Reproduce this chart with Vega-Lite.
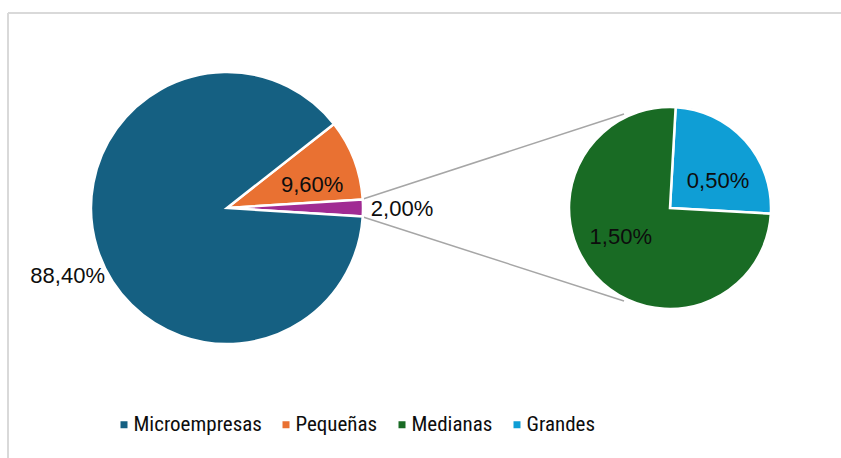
{
  "$schema": "https://vega.github.io/schema/vega-lite/v6.json",
  "width": 833,
  "height": 445,
  "autosize": {"type": "none"},
  "padding": {"left": 8, "top": 13, "right": 0, "bottom": 0},
  "background": "#ffffff",
  "config": {
    "view": {"stroke": "#d9d9d9", "strokeWidth": 2, "strokeDash": [833, 1278, 445, 0]},
    "locale": {"number": {"decimal": ",", "thousands": ".", "grouping": [3], "currency": ["", " €"]}},
    "text": {"font": "Liberation Sans", "fontSize": 22, "color": "#0d0d0d", "align": "center", "baseline": "middle"}
  },
  "datasets": {
    "principal": [
      {"categoria": "Pequeñas", "valor": 0.096, "orden": 1, "grupo": "Principal"},
      {"categoria": "Otros", "valor": 0.02, "orden": 2, "grupo": "Principal"},
      {"categoria": "Microempresas", "valor": 0.884, "orden": 3, "grupo": "Principal"}
    ],
    "desglose": [
      {"categoria": "Grandes", "valor": 0.005, "orden": 1, "grupo": "Desglose"},
      {"categoria": "Medianas", "valor": 0.015, "orden": 2, "grupo": "Desglose"}
    ],
    "conectores": [
      {"lado": "superior", "desde": "Principal", "hasta": "Desglose"},
      {"lado": "inferior", "desde": "Principal", "hasta": "Desglose"}
    ]
  },
  "resolve": {"scale": {"theta": "independent"}},
  "layer": [
    {
      "data": {"name": "conectores"},
      "transform": [{"filter": "datum.lado === 'superior'"}],
      "mark": {"type": "rule", "color": "#a6a6a6", "strokeWidth": 1.5, "xOffset": 136, "yOffset": -9, "x2Offset": -46, "y2Offset": -94},
      "encoding": {
        "x": {"field": "desde", "type": "nominal", "scale": {"type": "point", "domain": ["Principal", "Desglose"], "range": [219, 662], "padding": 0}, "axis": null},
        "x2": {"field": "hasta"},
        "y": {"datum": "centro", "type": "nominal", "scale": {"type": "point", "domain": ["centro"], "range": [195, 195], "padding": 0}, "axis": null},
        "y2": {"datum": "centro"}
      }
    },
    {
      "data": {"name": "conectores"},
      "transform": [{"filter": "datum.lado === 'inferior'"}],
      "mark": {"type": "rule", "color": "#a6a6a6", "strokeWidth": 1.5, "xOffset": 136, "yOffset": 9, "x2Offset": -46, "y2Offset": 93},
      "encoding": {
        "x": {"field": "desde", "type": "nominal", "scale": {"type": "point", "domain": ["Principal", "Desglose"], "range": [219, 662], "padding": 0}, "axis": null},
        "x2": {"field": "hasta"},
        "y": {"datum": "centro", "type": "nominal", "scale": {"type": "point", "domain": ["centro"], "range": [195, 195], "padding": 0}, "axis": null},
        "y2": {"datum": "centro"}
      }
    },
    {
      "data": {"name": "principal"},
      "encoding": {
        "x": {"field": "grupo", "type": "nominal", "scale": {"type": "point", "domain": ["Principal", "Desglose"], "range": [219, 662], "padding": 0}, "axis": null},
        "y": {"datum": "centro", "type": "nominal", "scale": {"type": "point", "domain": ["centro"], "range": [195, 195], "padding": 0}, "axis": null},
        "theta": {"field": "valor", "type": "quantitative", "stack": true, "scale": {"range": [0.9048, 7.188]}},
        "order": {"field": "orden", "type": "quantitative", "sort": "ascending"}
      },
      "layer": [
        {
          "mark": {"type": "arc", "outerRadius": 136, "stroke": "#ffffff", "strokeWidth": 2.5},
          "encoding": {
            "color": {
              "field": "categoria", "type": "nominal",
              "scale": {"domain": ["Microempresas", "Pequeñas", "Medianas", "Grandes", "Otros"], "range": ["#156082", "#E97132", "#196B24", "#0F9ED5", "#A02B93"]},
              "legend": {"orient": "none", "legendX": 113, "legendY": 401, "direction": "horizontal", "title": null, "values": ["Microempresas", "Pequeñas", "Medianas", "Grandes"], "symbolType": "square", "symbolSize": 49, "symbolStrokeWidth": 0, "symbolOffset": -7.5, "labelFont": "Liberation Sans Narrow, Roboto Condensed, DejaVu Sans Condensed, Roboto, sans-serif", "labelFontSize": 21, "labelColor": "#0d0d0d", "labelOffset": -1, "columnPadding": 20, "padding": 0, "labelLimit": 0}
            }
          }
        },
        {
          "mark": {"type": "text", "radius": 170, "dx": 3, "dy": 18},
          "encoding": {"text": {"condition": {"test": "datum.categoria === 'Microempresas'", "field": "valor", "type": "quantitative", "format": ".2%"}, "value": ""}}
        },
        {
          "mark": {"type": "text", "radius": 175, "dx": 0, "dy": 1},
          "encoding": {"text": {"condition": {"test": "datum.categoria === 'Otros'", "field": "valor", "type": "quantitative", "format": ".2%"}, "value": ""}}
        },
        {
          "mark": {"type": "text", "radius": 90, "dx": 1, "dy": 9},
          "encoding": {"text": {"condition": {"test": "datum.categoria === 'Pequeñas'", "field": "valor", "type": "quantitative", "format": ".2%"}, "value": ""}}
        }
      ]
    },
    {
      "data": {"name": "desglose"},
      "encoding": {
        "x": {"field": "grupo", "type": "nominal", "scale": {"type": "point", "domain": ["Principal", "Desglose"], "range": [219, 662], "padding": 0}, "axis": null},
        "y": {"datum": "centro", "type": "nominal", "scale": {"type": "point", "domain": ["centro"], "range": [195, 195], "padding": 0}, "axis": null},
        "theta": {"field": "valor", "type": "quantitative", "stack": true, "scale": {"range": [0.056, 6.3392]}},
        "order": {"field": "orden", "type": "quantitative", "sort": "ascending"}
      },
      "layer": [
        {
          "mark": {"type": "arc", "outerRadius": 101, "stroke": "#ffffff", "strokeWidth": 2.5},
          "encoding": {
            "color": {
              "field": "categoria", "type": "nominal",
              "scale": {"domain": ["Microempresas", "Pequeñas", "Medianas", "Grandes", "Otros"], "range": ["#156082", "#E97132", "#196B24", "#0F9ED5", "#A02B93"]},
              "legend": {"orient": "none", "legendX": 113, "legendY": 401, "direction": "horizontal", "title": null, "values": ["Microempresas", "Pequeñas", "Medianas", "Grandes"], "symbolType": "square", "symbolSize": 49, "symbolStrokeWidth": 0, "symbolOffset": -7.5, "labelFont": "Liberation Sans Narrow, Roboto Condensed, DejaVu Sans Condensed, Roboto, sans-serif", "labelFontSize": 21, "labelColor": "#0d0d0d", "labelOffset": -1, "columnPadding": 20, "padding": 0, "labelLimit": 0}
            }
          }
        },
        {
          "mark": {"type": "text", "radius": 55, "dx": 7, "dy": 10},
          "encoding": {"text": {"condition": {"test": "datum.categoria === 'Grandes'", "field": "valor", "type": "quantitative", "format": ".2%"}, "value": ""}}
        },
        {
          "mark": {"type": "text", "radius": 58, "dx": -6, "dy": -10},
          "encoding": {"text": {"condition": {"test": "datum.categoria === 'Medianas'", "field": "valor", "type": "quantitative", "format": ".2%"}, "value": ""}}
        }
      ]
    }
  ]
}
